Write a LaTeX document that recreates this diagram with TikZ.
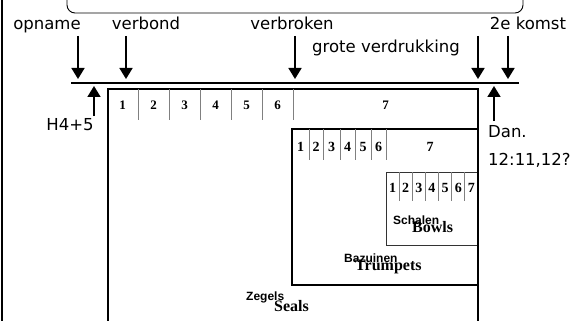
\documentclass[tikz,border=0pt]{standalone}
\usepackage{fontspec}
\usetikzlibrary{arrows.meta}
\newfontfamily\handfont{DejaVu Sans}
\newfontfamily\timesfont{Liberation Serif}
\newfontfamily\arialfont{Liberation Sans}

\tikzset{
  lbl/.style={font=\handfont\fontsize{16.5}{28}\selectfont, inner sep=0pt, anchor=base},
  num/.style={font=\timesfont\bfseries\fontsize{13}{14}\selectfont, inner sep=0pt},
  bignum/.style={font=\timesfont\bfseries\fontsize{14}{15}\selectfont, inner sep=0pt},
  nlname/.style={font=\arialfont\bfseries\fontsize{12}{13}\selectfont, inner sep=0pt, anchor=base west},
  enname/.style={font=\timesfont\bfseries\fontsize{16}{17}\selectfont, inner sep=0pt, anchor=base west},
  pijl/.style={line width=1.7pt, -{Triangle[length=11pt,width=13pt]}},
  box/.style={line width=1.8pt},
  smallbox/.style={line width=0.8pt, black!80},
  divider/.style={gray, line width=0.9pt},
}

\begin{document}
\begin{tikzpicture}[x=1pt,y=-1pt]
            \useasboundingbox (0,0) rectangle (576,321);
            \clip (0,0) rectangle (576,321);
            % frame
            \draw[line width=1.4pt] (2,-5) -- (2,330);
            \draw[line width=0.9pt, rounded corners=8pt] (67,-20) rectangle (523,13);
            % labels above the time line
            \node[lbl] (opname) at (47,30) {opname};
            \node[lbl] (verbond) at (146,30) {verbond};
            \node[lbl] (verbroken) at (292,30) {verbroken};
            \node[lbl] (grote) at (386,53) {grote verdrukking};
            \node[lbl] (komst) at (528,30) {2e komst};
            \node[lbl] (h45) at (70,131) {H4+5};
            \node[lbl, anchor=base west, align=left] (dan) at (488,165) {Dan.\\12:11,12?};
            % time line
            \coordinate (tl-l) at (71,83);
            \coordinate (tl-r) at (519,83);
            \draw[line width=2.8pt] (tl-l) -- (tl-r);
            \coordinate (opname-a) at (78,36);   \coordinate (opname-b) at (78,79);
            \coordinate (verbond-a) at (126,36);  \coordinate (verbond-b) at (126,79);
            \coordinate (verbroken-a) at (295,36); \coordinate (verbroken-b) at (295,79);
            \coordinate (grote-a) at (478,36);    \coordinate (grote-b) at (478,79);
            \coordinate (komst-a) at (508,36);    \coordinate (komst-b) at (508,79);
            \coordinate (h45-a) at (94,116);      \coordinate (h45-b) at (94,86);
            \coordinate (dan-a) at (494,121);     \coordinate (dan-b) at (494,86);
            \foreach \p in {opname,verbond,verbroken,grote,komst,h45,dan}
              \draw[pijl] (\p-a) -- (\p-b);
            % bowls
            \draw[smallbox] (386,172) rectangle (478,245);
            \foreach \n in {1,...,7} {
              \pgfmathsetmacro{\xx}{386+13.14*\n}
              \ifnum\n<7 \draw[divider] (\xx,172) -- (\xx,201); \fi
              \node[bignum] (bowl\n) at (\xx-6.57,188) {\n};
            }
            % trumpets
            \draw[box] (292,129) rectangle (478,285);
            \foreach \x/\n in {309/1,323/2,340/3,355/4,371/5,386/6}
              \draw[divider] (\x,129) -- (\x,160);
            \foreach \x/\n in {300.5/1,316/2,331.5/3,347.5/4,363/5,378.5/6,430/7}
              \node[bignum] (trumpet\n) at (\x,147) {\n};
            % seals
            \draw[box] (108,330) -- (108,89) -- (478,89) -- (478,330);
            \foreach \n in {1,...,6} {
              \draw[divider] (107+31*\n,89) -- (107+31*\n,120);
              \node[num] (seal\n) at (91.5+31*\n,105) {\n};
            }
            \node[num] (seal7) at (385.5,105) {7};
            % names
            \node[nlname] (schalen) at (393,224) {Schalen};
            \node[enname] (bowls) at (412,232) {Bowls};
            \node[nlname] (bazuinen) at (344,262) {Bazuinen};
            \node[enname] (trumpets) at (355,270) {Trumpets};
            \node[nlname] (zegels) at (246,300) {Zegels};
            \node[enname] (seals) at (274,311) {Seals};
\end{tikzpicture}
\end{document}
